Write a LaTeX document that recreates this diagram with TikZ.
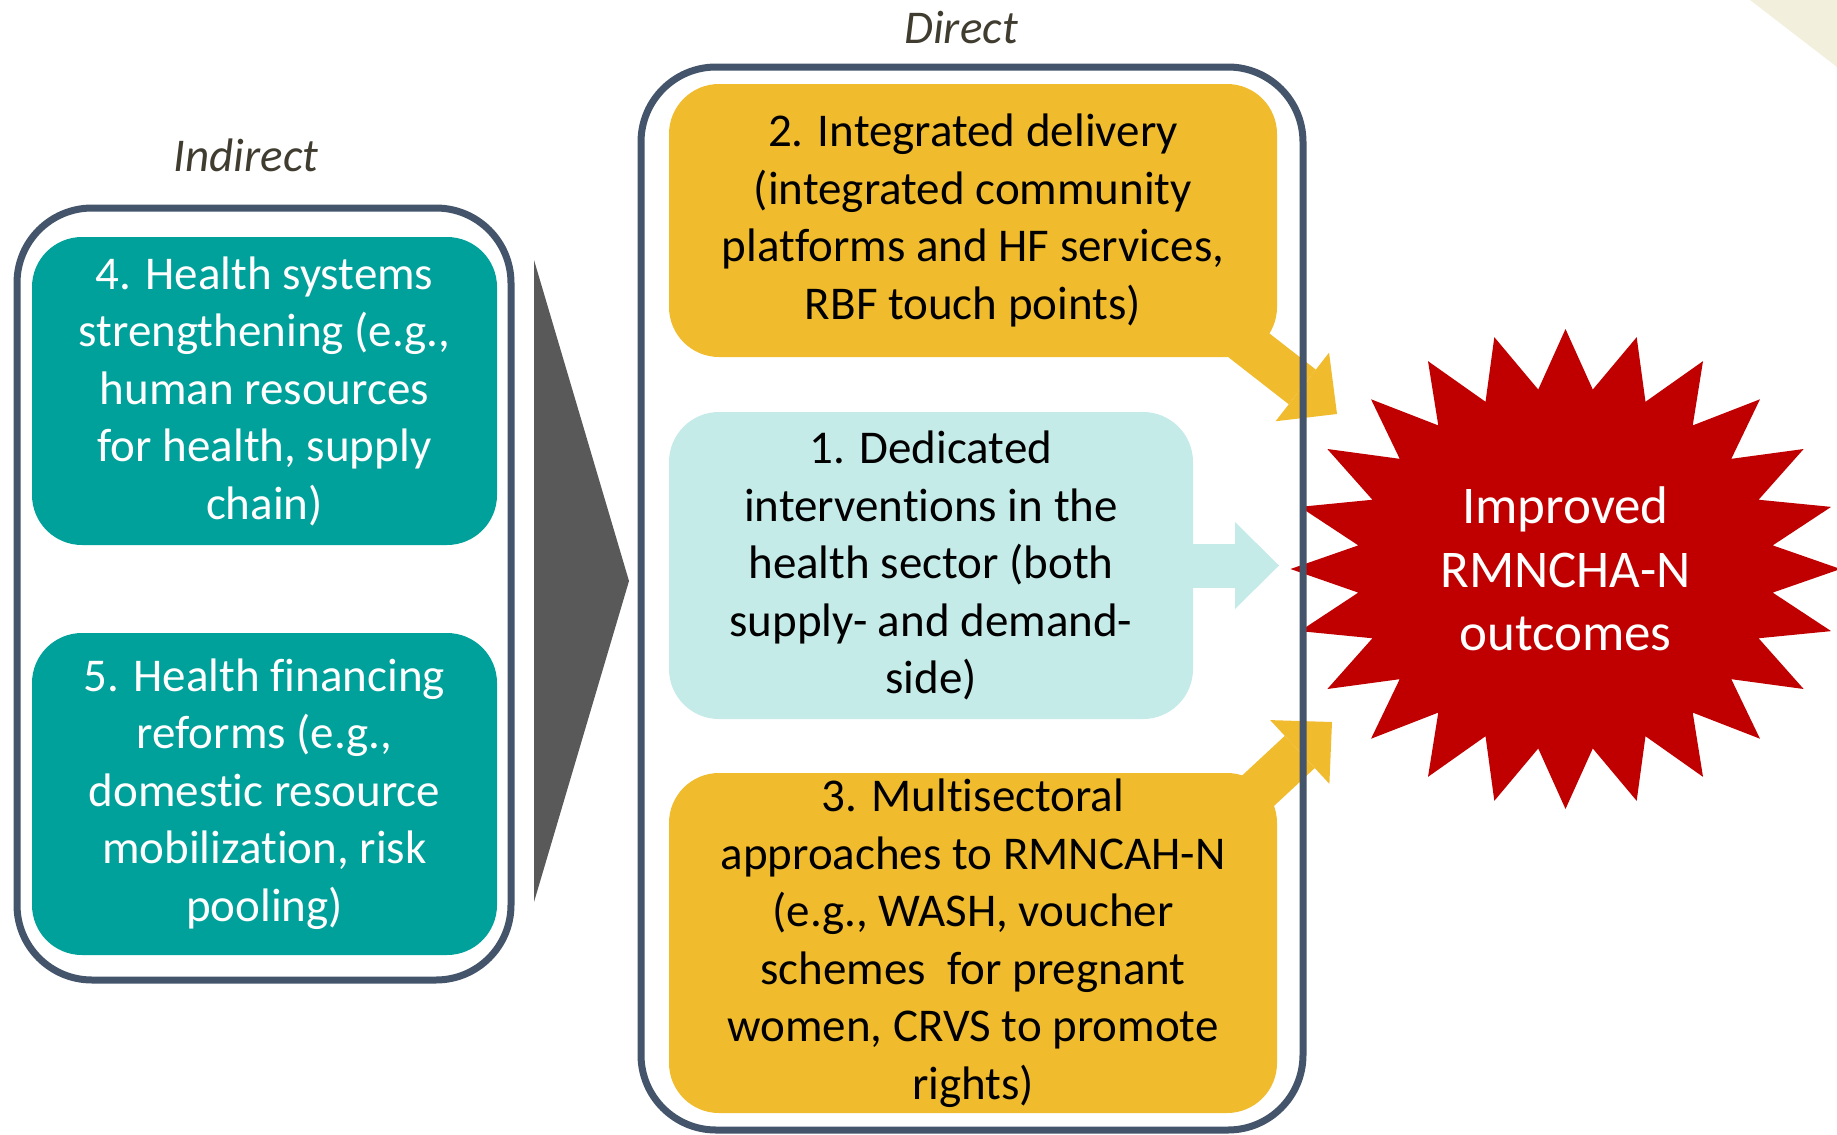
\documentclass[tikz,border=0pt]{standalone}
\usepackage{fontspec}
\setmainfont{Carlito}[Ligatures=NoCommon]
\usetikzlibrary{arrows.meta,backgrounds}

\definecolor{framegray}{RGB}{68,84,106}
\definecolor{hsteal}{RGB}{0,161,154}
\definecolor{delivyellow}{RGB}{240,187,45}
\definecolor{dedcyan}{RGB}{197,235,233}
\definecolor{outcomered}{RGB}{192,0,0}
\definecolor{chevgray}{RGB}{89,89,89}
\definecolor{labelgray}{RGB}{64,61,48}
\definecolor{cornerbeige}{RGB}{243,239,221}

\tikzset{
  bodytext/.style={font=\fontsize{47}{57.5}\selectfont, align=center, inner sep=0pt},
  groupframe/.style={draw=framegray, line width=7pt, rounded corners=75pt},
  leverbox/.style={bodytext, rounded corners=50pt},
  grouplabel/.style={font=\fontsize{47}{57.5}\selectfont\itshape, text=labelgray},
  flowarrow/.style={line width=44pt, -{Triangle[length=44pt,width=87pt,line width=0pt]}},
}

\begin{document}
\begin{tikzpicture}[x=1pt,y=-1pt]
  \useasboundingbox (0,0) rectangle (1837,1135);
  \fill [cornerbeige] (1750,0) -- (1837,0) -- (1837,67) -- cycle;

  % indirect levers
  \node [groupframe, minimum width=494pt, minimum height=772pt] (indirect) at (264,594) {};
  \node [grouplabel] (indirectlabel) at (246,155) {Indirect};
  \node [leverbox, fill=hsteal, text=white, minimum width=465pt, minimum height=308pt] (hss) at (264.5,391)
    {4. Health systems\\strengthening (e.g.,\\human resources\\for health, supply\\chain)};
  \node [leverbox, fill=hsteal, text=white, minimum width=465pt, minimum height=322pt] (hfr) at (264.5,794)
    {5. Health financing\\reforms (e.g.,\\domestic resource\\mobilization, risk\\pooling)};
  \fill [chevgray] (534,260) -- (534,902) -- (629,581) -- cycle;

  % direct levers
  \node [groupframe, minimum width=662pt, minimum height=1063pt] (direct) at (972,598.5) {};
  \node [grouplabel] (directlabel) at (961,28) {Direct};
  \node [leverbox, fill=delivyellow, minimum width=608pt, minimum height=273pt] (integrated) at (973,220.5)
    {2. Integrated delivery\\(integrated community\\platforms and HF services,\\RBF touch points)};
  \node [leverbox, fill=dedcyan, minimum width=524pt, minimum height=307pt] (dedicated) at (931,565.5)
    {1. Dedicated\\interventions in the\\health sector (both\\supply- and demand-\\side)};
  \node [leverbox, fill=delivyellow, minimum width=608pt, minimum height=340pt] (multisect) at (973,943)
    {3. Multisectoral\\approaches to RMNCAH-N\\(e.g., WASH, voucher\\schemes\ \ for pregnant\\women, CRVS to promote\\rights)};

  % outcome
  \node [font=\fontsize{53}{63.5}\selectfont, align=center, text=white, inner sep=0pt] (outcome) at (1565.5,569)
    {Improved\\RMNCHA-N\\outcomes};

  \coordinate (root2) at (1219,322);
  \coordinate (tip2) at (1337,414);
  \coordinate (tip1) at (1279,565.5);
  \coordinate (root3) at (1190,854);
  \coordinate (tip3) at (1332,722);

  \begin{scope}[on background layer]
    \fill [outcomered] ([shift={(0:275 and 240)}]outcome.center)
      \foreach \a in {0,15,...,345} { -- ([shift={(\a:275 and 240)}]outcome.center) -- ([shift={({\a+7.5}:209 and 181)}]outcome.center) } -- cycle;
    \draw [flowarrow, delivyellow] (root2) -- (tip2);
    \draw [flowarrow, dedcyan] (dedicated.east) -- (tip1);
    \draw [flowarrow, delivyellow] (root3) -- (tip3);
  \end{scope}
\end{tikzpicture}
\end{document}
